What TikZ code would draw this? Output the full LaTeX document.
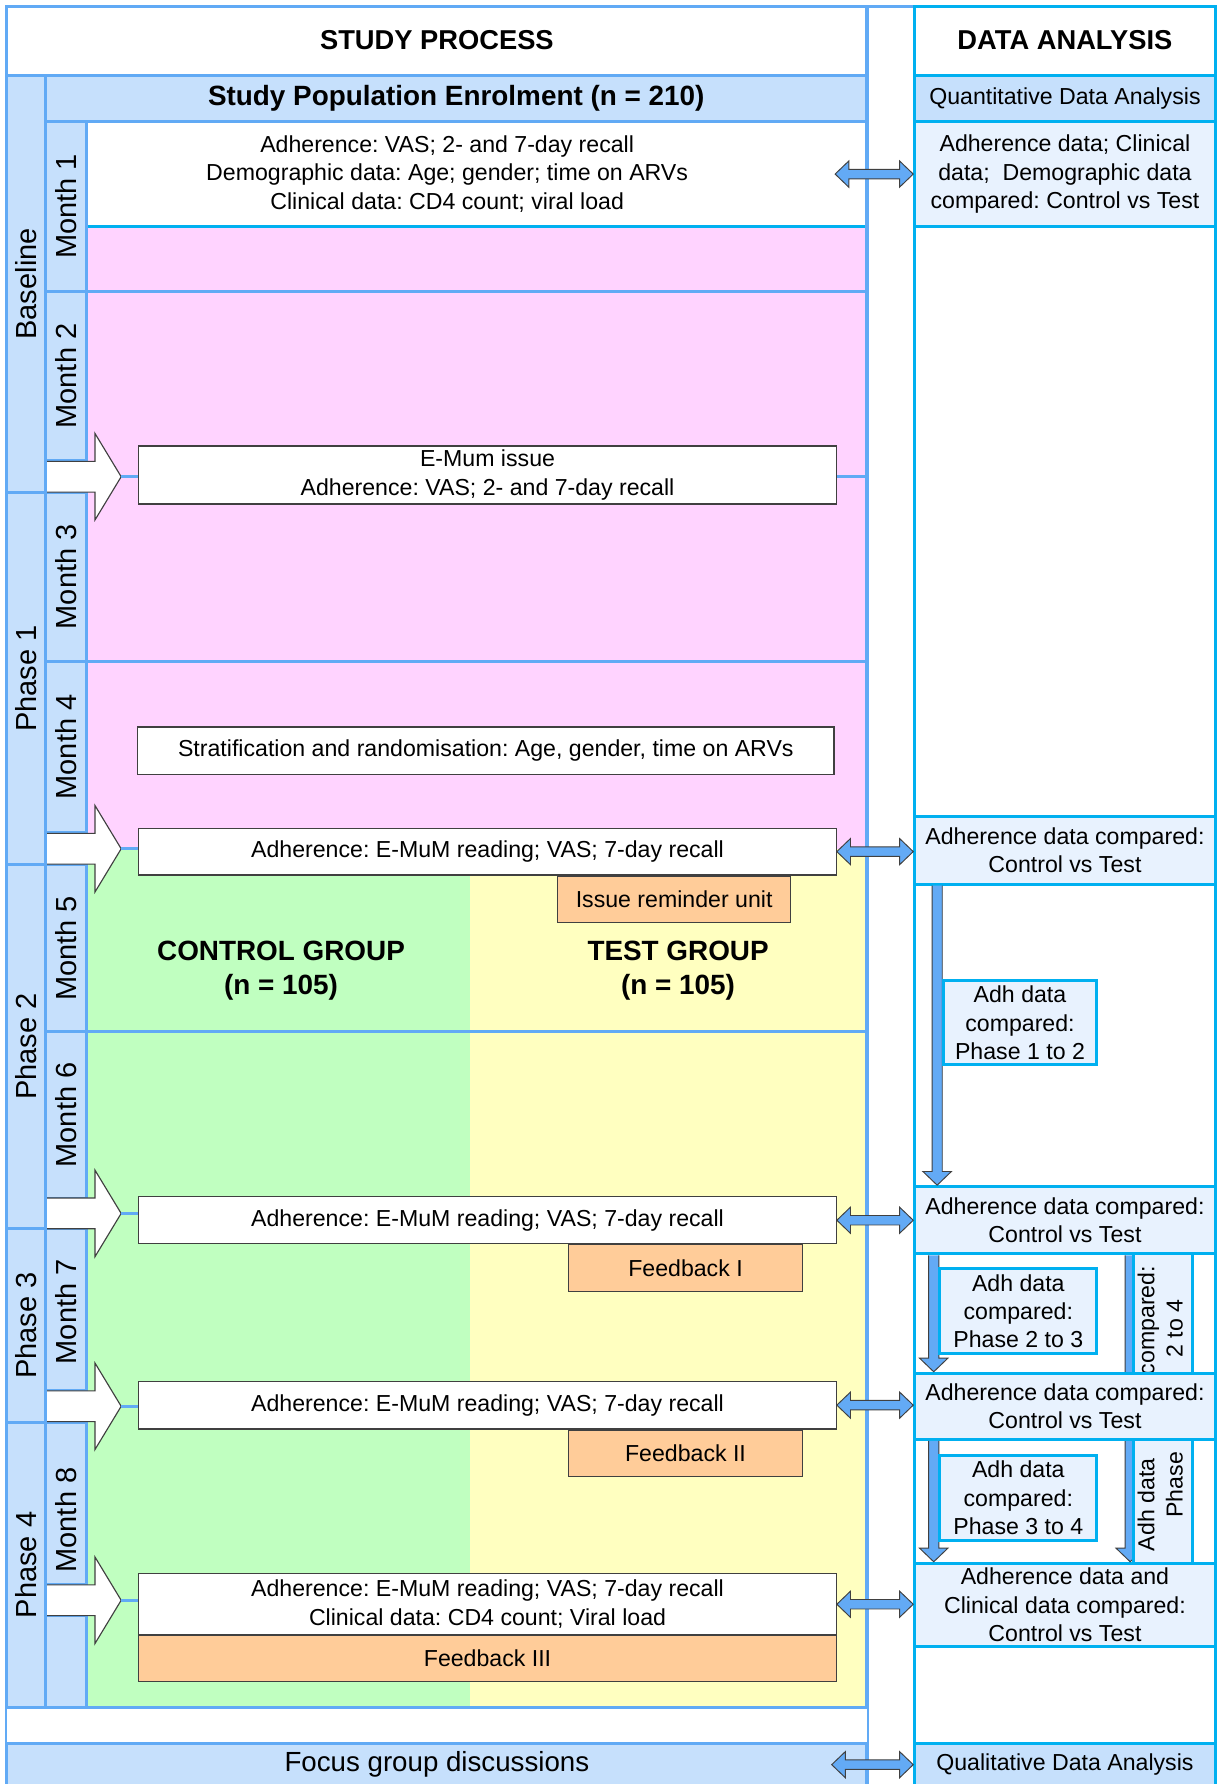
\documentclass[tikz,border=0pt]{standalone}
\usepackage{fontspec}
\setmainfont{Liberation Sans}
\usetikzlibrary{calc}
\frenchspacing
\definecolor{lineB}{RGB}{97,170,245}
\definecolor{cyanB}{RGB}{0,176,240}
\definecolor{hdrF}{RGB}{198,224,252}
\definecolor{pinkF}{RGB}{255,211,255}
\definecolor{greenF}{RGB}{192,255,192}
\definecolor{yellowF}{RGB}{255,255,192}
\definecolor{orangeF}{RGB}{255,204,153}
\definecolor{rboxF}{RGB}{232,242,254}
\definecolor{arrB}{RGB}{99,170,245}
\definecolor{edgeG}{RGB}{64,64,64}
\newcommand\fsN{\fontsize{12.2pt}{15pt}\selectfont}
\newcommand\fsB{\fontsize{14.7pt}{18pt}\selectfont\bfseries}
\newcommand\fsT{\fontsize{14.4pt}{18pt}\selectfont\bfseries}
\newcommand\fsR{\fontsize{15.3pt}{18pt}\selectfont}
\newcommand\fsF{\fontsize{14.6pt}{18pt}\selectfont}
\def\un{0.6pt}
\tikzset{
 txt/.style={font=\fsN, align=center, inner sep=0pt},
 rotlbl/.style={font=\fsR, rotate=90, inner sep=0pt},
 cellbox/.style={draw=lineB, line width=1.6pt, fill=hdrF},
 wbox/.style={draw=edgeG, line width=0.6pt, fill=white, inner sep=0pt, font=\fsN, align=center},
 obox/.style={wbox, fill=orangeF},
 rbox/.style={draw=cyanB, line width=1.6pt, fill=rboxF, inner sep=0pt, font=\fsN, align=center},
 blueline/.style={draw=lineB, line width=1.6pt},
 cyanline/.style={draw=cyanB, line width=1.6pt},
 dblarr/.style={fill=arrB, draw=edgeG, line width=0.5pt},
 vertarr/.style={fill=arrB, draw=edgeG, line width=0.5pt},
 warr/.style={draw=edgeG, line width=0.6pt},
}
% horizontal double block arrow between two points (y of first point)
\newcommand\dblarrow[2]{%
 \draw[dblarr] let \p1=(#1), \p2=(#2) in
  (\x1,\y1) -- (\x1+7.2pt,\y1+6.9pt) -- (\x1+7.2pt,\y1+2.5pt) -- (\x2-7.2pt,\y1+2.5pt)
  -- (\x2-7.2pt,\y1+6.9pt) -- (\x2,\y1) -- (\x2-7.2pt,\y1-6.9pt) -- (\x2-7.2pt,\y1-2.5pt)
  -- (\x1+7.2pt,\y1-2.5pt) -- (\x1+7.2pt,\y1-6.9pt) -- cycle;}
% vertical downward block arrow (x of first point)
\newcommand\varrow[2]{%
 \fill[arrB] let \p1=(#1), \p2=(#2) in
  (\x1-2.7pt,\y1) -- (\x1-2.7pt,\y2+7.2pt) -- (\x1-7.5pt,\y2+7.2pt) -- (\x1,\y2)
  -- (\x1+7.5pt,\y2+7.2pt) -- (\x1+2.7pt,\y2+7.2pt) -- (\x1+2.7pt,\y1) -- cycle;
 \draw[vertarr, fill=none] let \p1=(#1), \p2=(#2) in
  (\x1-2.7pt,\y1) -- (\x1-2.7pt,\y2+7.2pt) -- (\x1-7.5pt,\y2+7.2pt) -- (\x1,\y2)
  -- (\x1+7.5pt,\y2+7.2pt) -- (\x1+2.7pt,\y2+7.2pt) -- (\x1+2.7pt,\y1);}
% white block arrow from month column to a box
\newcommand\warrow[2]{%
 \fill[white] let \p1=(#1), \p2=(#2) in
  (\x1,\y1+8.1pt) -- (\x2-22.8pt,\y1+8.1pt) -- (\x2-22.8pt,\y1+22.8pt) -- (\x2-9pt,\y1)
  -- (\x2-22.8pt,\y1-22.8pt) -- (\x2-22.8pt,\y1-8.1pt) -- (\x1,\y1-8.1pt) -- cycle;
 \draw[warr] let \p1=(#1), \p2=(#2) in
  (\x1,\y1+8.1pt) -- (\x2-22.8pt,\y1+8.1pt) -- (\x2-22.8pt,\y1+22.8pt) -- (\x2-9pt,\y1)
  -- (\x2-22.8pt,\y1-22.8pt) -- (\x2-22.8pt,\y1-8.1pt) -- (\x1,\y1-8.1pt);
 \draw[blueline] let \p1=(#1), \p2=(#2) in (\x2-9pt,\y1) -- (\x2,\y1);}
\begin{document}
\begin{tikzpicture}[x=0.6pt,y=-0.6pt]
\useasboundingbox (0,0) rectangle (1071,1568);
\clip (0,0) rectangle (1071,1568);
\fill[white] (0,0) rectangle (1071,1568);
% ---------- content backgrounds ----------
\fill[white] (76,107) rectangle (762,199);
\fill[pinkF] (76,199) rectangle (762,746);
\fill[greenF] (76,746) rectangle (413,1501);
\fill[yellowF] (413,746) rectangle (762,1501);
\draw[cyanline] (76,199) -- (762,199);
\foreach \yy in {256,419,581,907} \draw[blueline] (76,\yy) -- (762,\yy);
% ---------- left panel frame ----------
\draw[blueline] (6,6) rectangle (762,1620);
\draw[blueline] (6,66) -- (762,66);
\node[font=\fsT, inner sep=0pt] (studyproc) at (384,35) {STUDY PROCESS};
\draw[cellbox] (40,66) rectangle (762,107);
\node[font=\fsB, inner sep=0pt] (enrol) at (401,86) {Study Population Enrolment (n = 210)};
% phases
\draw[cellbox] (6,66) rectangle (40,433);
\draw[cellbox] (6,433) rectangle (40,760);
\draw[cellbox] (6,760) rectangle (40,1080);
\draw[cellbox] (6,1080) rectangle (40,1250);
\draw[cellbox] (6,1250) rectangle (40,1501);
\node[rotlbl] (ph0) at (23,249.5) {Baseline};
\node[rotlbl] (ph1) at (23,596.5) {Phase 1};
\node[rotlbl] (ph2) at (23,920) {Phase 2};
\node[rotlbl] (ph3) at (23,1165) {Phase 3};
\node[rotlbl] (ph4) at (23,1375.5) {Phase 4};
% months
\draw[cellbox] (40,107) rectangle (76,256);
\draw[cellbox] (40,256) rectangle (76,405);
\draw[cellbox] (40,433) rectangle (76,581);
\draw[cellbox] (40,581) rectangle (76,732);
\draw[cellbox] (40,760) rectangle (76,907);
\draw[cellbox] (40,907) rectangle (76,1053);
\draw[cellbox] (40,1080) rectangle (76,1222);
\draw[cellbox] (40,1250) rectangle (76,1393);
\draw[cellbox] (40,1420) rectangle (76,1501);
\node[rotlbl] (mo1) at (58,181.5) {Month 1};
\node[rotlbl] (mo2) at (58,330.5) {Month 2};
\node[rotlbl] (mo3) at (58,507) {Month 3};
\node[rotlbl] (mo4) at (58,656.5) {Month 4};
\node[rotlbl] (mo5) at (58,833.5) {Month 5};
\node[rotlbl] (mo6) at (58,980) {Month 6};
\node[rotlbl] (mo7) at (58,1153) {Month 7};
\node[rotlbl] (mo8) at (58,1336) {Month 8};
% bottom rows
\fill[white] (6,1501) rectangle (762,1532);
\draw[blueline] (6,1501) -- (762,1501);
\draw[cellbox] (6,1532) rectangle (762,1620);
\node[font=\fsF, inner sep=0pt] (focus) at (384,1551) {Focus group discussions};
% ---------- middle strip ----------
\draw[blueline] (762,6) -- (804,6);
% ---------- right panel ----------
\draw[cyanline] (804,6) rectangle (1068,1620);
\node[font=\fsT, inner sep=0pt] (dataan) at (936,35) {DATA ANALYSIS};
\draw[blueline] (804,66) -- (1068,66);
\node[rbox, fill=hdrF, minimum width=264*\un, minimum height=41*\un] (quant) at (936,86.5) {Quantitative Data Analysis};
\node[rbox, minimum width=264*\un, minimum height=92*\un] (R1) at (936,153) {Adherence data; Clinical\\data;\ \ Demographic data\\compared: Control vs Test};
\node[rbox, minimum width=264*\un, minimum height=59*\un] (R2) at (936,747.5) {Adherence data compared:\\Control vs Test};
\node[rbox, minimum width=264*\un, minimum height=59*\un] (R3) at (936,1072.5) {Adherence data compared:\\Control vs Test};
\node[rbox, minimum width=264*\un, minimum height=73*\un] (R5) at (936,1410.5) {Adherence data and\\Clinical data compared:\\Control vs Test};
\node[rbox, fill=hdrF, minimum width=264*\un, minimum height=68*\un] (qualbox) at (936,1566) {};
\node[txt] (qualt) at (936,1551) {Qualitative Data Analysis};
% long arrow Phase 2 to 4 (hidden behind R4)
\varrow{$(R3.south east)+(-76,0)$}{$(R5.north east)+(-76,0)$}
\node[rbox, minimum width=52*\un, minimum height=272*\un] (L24) at (1022,1238)
  {\rotatebox{90}{\begin{tabular}{@{}c@{}}Adh data\hspace*{44pt}compared:\\Phase\hspace*{50pt}2 to 4\end{tabular}}};
\node[rbox, minimum width=264*\un, minimum height=58*\un] (R4) at (936,1236) {Adherence data compared:\\Control vs Test};
% vertical arrows
\varrow{$(R2.south west)+(21,0)$}{$(R3.north west)+(21,0)$}
\varrow{$(R3.south west)+(18,0)$}{$(R4.north west)+(18,0)$}
\varrow{$(R4.south west)+(18,0)$}{$(R5.north west)+(18,0)$}
\node[rbox, minimum width=135*\un, minimum height=74*\un] (L12) at (896.5,899) {Adh data\\compared:\\Phase 1 to 2};
\node[rbox, minimum width=138*\un, minimum height=75*\un] (L23) at (895,1152.5) {Adh data\\compared:\\Phase 2 to 3};
\node[rbox, minimum width=138*\un, minimum height=75*\un] (L34) at (895,1316.5) {Adh data\\compared:\\Phase 3 to 4};
% ---------- left content ----------
\node[txt] (m1txt) at (393,153) {Adherence: VAS; 2- and 7-day recall\\Demographic data: Age; gender; time on ARVs\\Clinical data: CD4 count; viral load};
\node[wbox, minimum width=613*\un, minimum height=51*\un] (emum) at (428.5,417.5) {E-Mum issue\\Adherence: VAS; 2- and 7-day recall};
\node[wbox, minimum width=612*\un, minimum height=42*\un] (strat) at (427,660) {Stratification and randomisation: Age, gender, time on ARVs};
\node[wbox, minimum width=613*\un, minimum height=41*\un] (boxA) at (428.5,748.5) {Adherence: E-MuM reading; VAS; 7-day recall};
\node[obox, minimum width=205*\un, minimum height=41*\un] (iru) at (592.5,790.5) {Issue reminder unit};
\node[font=\fsB, align=center, inner sep=0pt] (ctrl) at (247,853) {CONTROL GROUP\\(n = 105)};
\node[font=\fsB, align=center, inner sep=0pt] (test) at (596,853) {TEST GROUP\\(n = 105)};
\node[wbox, minimum width=613*\un, minimum height=41*\un] (boxB) at (428.5,1072.5) {Adherence: E-MuM reading; VAS; 7-day recall};
\node[obox, minimum width=205*\un, minimum height=41*\un] (fb1) at (602.5,1114.5) {Feedback I};
\node[wbox, minimum width=613*\un, minimum height=42*\un] (boxC) at (428.5,1235) {Adherence: E-MuM reading; VAS; 7-day recall};
\node[obox, minimum width=205*\un, minimum height=41*\un] (fb2) at (602.5,1277.5) {Feedback II};
\node[wbox, minimum width=613*\un, minimum height=54*\un] (boxD) at (428.5,1410) {Adherence: E-MuM reading; VAS; 7-day recall\\Clinical data: CD4 count; Viral load};
\node[obox, minimum width=613*\un, minimum height=41*\un] (fb3) at (428.5,1457.5) {Feedback III};
% white block arrows
\coordinate (ws1) at (41.5,419);
\coordinate (ws2) at (41.5,746);
\coordinate (ws3) at (41.5,1066.5);
\coordinate (ws4) at (41.5,1236);
\coordinate (ws5) at (41.5,1406.5);
\warrow{ws1}{emum.west}
\warrow{ws2}{boxA.west}
\warrow{ws3}{boxB.west}
\warrow{ws4}{boxC.west}
\warrow{ws5}{boxD.west}
% double arrows
\coordinate (m1end) at (734,153);
\coordinate (fgend) at (731,1551);
\dblarrow{m1end}{R1.west}
\dblarrow{boxA.east}{R2.west}
\dblarrow{boxB.east}{R3.west}
\dblarrow{boxC.east}{R4.west}
\dblarrow{boxD.east}{R5.west}
\dblarrow{fgend}{qualbox.west}
\end{tikzpicture}
\end{document}
